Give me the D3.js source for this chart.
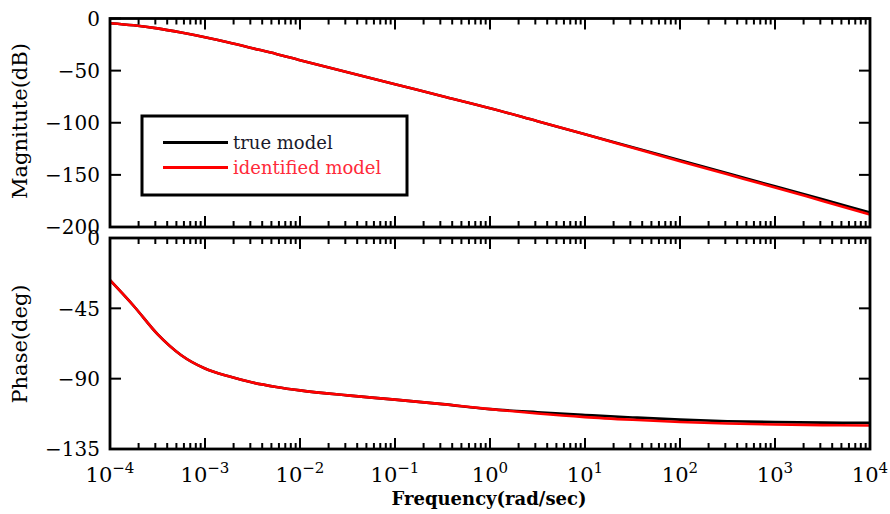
<!DOCTYPE html>
<html>
<head>
<meta charset="utf-8">
<script src="https://cdn.jsdelivr.net/npm/d3@7"></script>
<style>
  body { margin: 0; background: #fff; }
  svg text { font-family: "DejaVu Serif", serif; }
</style>
</head>
<body>
<svg id="chart" width="890" height="514"></svg>
<script>
// frequency grid (rad/sec), as powers of ten
const freqExp = [-4, -3.75, -3.5, -3.25, -3, -2.75, -2.5, -2.25, -2, -1.5, -1, -0.5, 0, 0.5, 1, 1.5, 2, 2.5, 3, 3.5, 4];

// magnitude (dB)
const magTrue  = [-4.5, -6.5, -9.5, -13.5, -18, -23, -28.5, -34, -40, -51.5, -63, -74.5, -86, -98.5, -111, -123.5, -136, -148.5, -161, -173.5, -186];
const magIdent = [-4.5, -6.5, -9.5, -13.5, -18, -23, -28.5, -34, -40, -51.5, -63, -74.5, -86, -98.5, -111, -124, -137, -149.5, -162, -175, -188];

// phase (deg)
const phaseTrue  = [-27, -43.5, -61.5, -75, -83.5, -88.5, -92.5, -95.3, -97.5, -100.7, -103.4, -106.3, -109.5, -111.5, -113.2, -114.8, -116.2, -117.2, -117.8, -118.1, -118.3];
const phaseIdent = [-27, -43.5, -61.5, -75, -83.5, -88.5, -92.5, -95.3, -97.5, -100.7, -103.4, -106.3, -109.5, -112.3, -114.6, -116.3, -117.7, -118.7, -119.3, -119.7, -120];

const magTicks   = [0, -50, -100, -150, -200];
const phaseTicks = [0, -45, -90, -135];
const decades    = [-4, -3, -2, -1, 0, 1, 2, 3, 4];

const seriesNames  = ['true model', 'identified model'];
const seriesColors = ['#000000', '#ff0000'];

const svg = d3.select('#chart');
const x = d3.scaleLog().domain([1e-4, 1e4]).range([110, 870]);

const panels = [
  { y: d3.scaleLinear().domain([-200, 0]).range([227, 18.5]), ticks: magTicks,   series: [magTrue, magIdent],     label: 'Magnitute(dB)', labelY: 121 },
  { y: d3.scaleLinear().domain([-135, 0]).range([449, 238]),  ticks: phaseTicks, series: [phaseTrue, phaseIdent], label: 'Phase(deg)',    labelY: 344 }
];

const fmt = v => (v < 0 ? '\u2212' + Math.abs(v) : String(v));
const line = (yScale) => d3.line()
  .x((d, i) => x(Math.pow(10, freqExp[i])))
  .y(d => yScale(d))
  .curve(d3.curveMonotoneX);

panels.forEach(p => {
  const [y0, y1] = p.y.range();
  const g = svg.append('g');

  // curves
  p.series.forEach((s, k) => {
    g.append('path').datum(s)
      .attr('fill', 'none')
      .attr('stroke', seriesColors[k])
      .attr('stroke-width', 2.6)
      .attr('d', line(p.y));
  });

  // x ticks, top and bottom, inward
  const xt = x.ticks();
  const isMajor = v => Math.abs(Math.log10(v) - Math.round(Math.log10(v))) < 1e-9;
  [[y0, -1], [y1, 1]].forEach(([yy, dir]) => {
    g.selectAll(null).data(xt).enter().append('line')
      .attr('x1', d => x(d)).attr('x2', d => x(d))
      .attr('y1', yy).attr('y2', d => yy + dir * (isMajor(d) ? 11 : 6))
      .attr('stroke', '#000').attr('stroke-width', 2);
  });

  // y ticks, left and right, inward
  [[110, 1], [870, -1]].forEach(([xx, dir]) => {
    g.selectAll(null).data(p.ticks).enter().append('line')
      .attr('x1', xx).attr('x2', xx + dir * 11)
      .attr('y1', d => p.y(d)).attr('y2', d => p.y(d))
      .attr('stroke', '#000').attr('stroke-width', 2);
  });

  // y tick labels
  g.selectAll(null).data(p.ticks).enter().append('text')
    .attr('x', 100).attr('y', d => p.y(d))
    .attr('dy', '0.36em')
    .attr('text-anchor', 'end')
    .style('font-size', '20px')
    .text(fmt);

  // frame
  g.append('rect')
    .attr('x', 110).attr('y', y1)
    .attr('width', 760).attr('height', y0 - y1)
    .attr('fill', 'none').attr('stroke', '#000').attr('stroke-width', 2.8);

  // y label
  g.append('text')
    .attr('transform', `translate(27,${p.labelY}) rotate(-90)`)
    .attr('text-anchor', 'middle')
    .style('font-size', '21px')
    .text(p.label);
});

// x tick labels 10^n
const xl = svg.selectAll('.xlab').data(decades).enter().append('text')
  .attr('class', 'xlab')
  .attr('x', d => x(Math.pow(10, d)))
  .attr('y', 482)
  .attr('text-anchor', 'middle')
  .style('font-size', '21px');
xl.append('tspan').text('10');
xl.append('tspan').attr('dy', -9).style('font-size', '15px').text(d => fmt(d));

// x label
svg.append('text')
  .attr('x', 489).attr('y', 505)
  .attr('text-anchor', 'middle')
  .style('font-size', '18px')
  .style('font-weight', 'bold')
  .text('Frequency(rad/sec)');

// legend
const lg = svg.append('g');
lg.append('rect')
  .attr('x', 142).attr('y', 116).attr('width', 265).attr('height', 79)
  .attr('fill', '#fff').attr('stroke', '#000').attr('stroke-width', 3);
seriesNames.forEach((name, i) => {
  const yy = 142.5 + i * 25;
  lg.append('line')
    .attr('x1', 163).attr('x2', 228).attr('y1', yy).attr('y2', yy)
    .attr('stroke', seriesColors[i]).attr('stroke-width', 3);
  lg.append('text')
    .attr('x', 233).attr('y', yy + 6)
    .style('font-size', '18px')
    .attr('fill', i === 0 ? '#1a1a2a' : '#ff2a3a')
    .text(name);
});
</script>
</body>
</html>
